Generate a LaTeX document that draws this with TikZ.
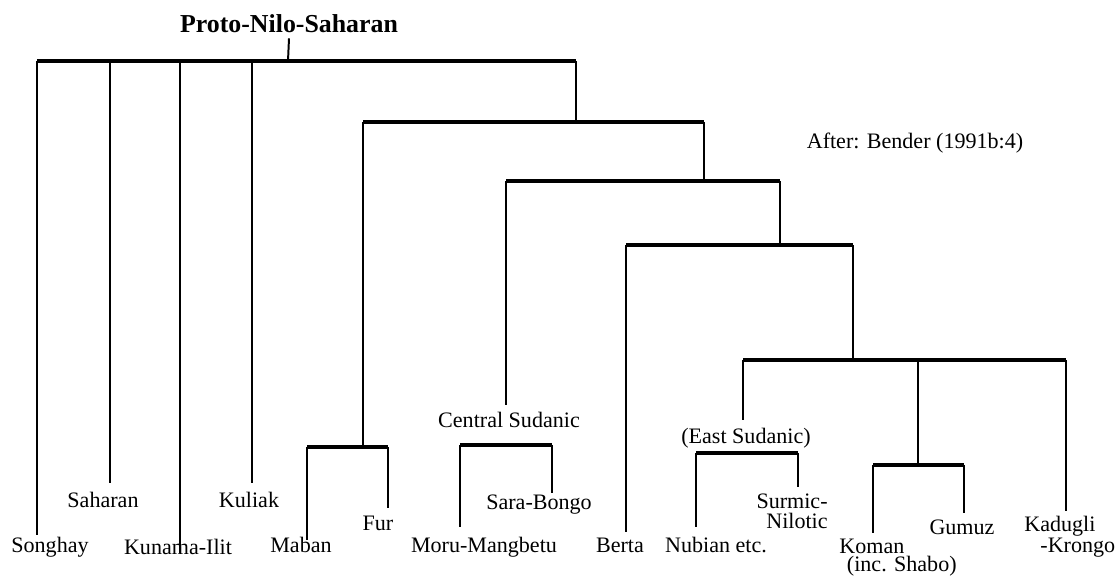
\documentclass[tikz,border=0pt]{standalone}
\usepackage{fontspec}
\setmainfont{Liberation Serif}
\tikzset{
  ns label/.style={font=\fontsize{11.7}{12}\selectfont, inner sep=0pt, anchor=base},
  ns multi/.style={font=\fontsize{11.7}{10.6}\selectfont, inner sep=0pt},
  ns title/.style={font=\fontsize{13.7}{14}\selectfont\bfseries, inner sep=0pt, anchor=base},
  ns bar/.style={line width=1.6pt},
  ns line/.style={line width=1.05pt},
}
\begin{document}
\begin{tikzpicture}[x=0.53pt, y=-0.53pt]
  \useasboundingbox (0,0) rectangle (1120,576);
  % labels
  \node[ns title] (title) at (289,32) {Proto-Nilo-Saharan};
  \node[ns label] (after) at (915,148) {After: Bender (1991b:4)};
  \node[ns label] (songhay) at (50,552) {Songhay};
  \node[ns label] (saharan) at (103,507) {Saharan};
  \node[ns label] (kunama) at (178,554) {Kunama-Ilit};
  \node[ns label] (kuliak) at (249,507) {Kuliak};
  \node[ns label] (maban) at (301,552) {Maban};
  \node[ns label] (fur) at (378,530) {Fur};
  \node[ns label] (cs) at (509,427) {Central Sudanic};
  \node[ns label] (moru) at (484,552) {Moru-Mangbetu};
  \node[ns label] (sara) at (539,509) {Sara-Bongo};
  \node[ns label] (berta) at (620,552) {Berta};
  \node[ns label] (es) at (746,443) {(East Sudanic)};
  \node[ns label] (nubian) at (716,552) {Nubian etc.};
  \node[ns multi, align=right, anchor=north east] (surmic) at (828,493) {Surmic-\\Nilotic};
  \node[ns multi, align=left, anchor=north west, font=\fontsize{11.7}{8}\selectfont] (koman) at (839,539) {Koman\\\hspace*{4pt}(inc. Shabo)};
  \node[ns label] (gumuz) at (962,534) {Gumuz};
  \node[ns multi, align=left, anchor=north west, font=\fontsize{11.7}{8}\selectfont] (kadugli) at (1024,516) {Kadugli\\\hspace*{8.5pt}-Krongo};

  % branch points
  \coordinate (b0) at (288,61);
  \coordinate (b1) at (576,122);
  \coordinate (b2) at (363,447);
  \coordinate (b3) at (704,181);
  \coordinate (b4) at (506,445);
  \coordinate (b5) at (780,245);
  \coordinate (b6) at (853,360);
  \coordinate (b7) at (743,453);
  \coordinate (b8) at (918,465);
  \coordinate (e-cs) at (506,405);
  \coordinate (e-es) at (743,420);
  % line ends above the labels
  \coordinate (e-songhay) at (37,535);
  \coordinate (e-saharan) at (110,483);
  \coordinate (e-kunama) at (180,553);
  \coordinate (e-kuliak) at (252,483);
  \coordinate (e-maban) at (307,540);
  \coordinate (e-fur) at (388,508);
  \coordinate (e-moru) at (460,527);
  \coordinate (e-sara) at (552,493);
  \coordinate (e-berta) at (626,532);
  \coordinate (e-nubian) at (696,527);
  \coordinate (e-surmic) at (798,487);
  \coordinate (e-koman) at (873,533);
  \coordinate (e-gumuz) at (964,513);
  \coordinate (e-kadugli) at (1066,511);

  % bars
  \draw[ns bar] (e-songhay |- b0) -- (b1 |- b0);
  \draw[ns bar] (b2 |- b1) -- (b3 |- b1);
  \draw[ns bar] (e-maban |- b2) -- (e-fur |- b2);
  \draw[ns bar] (e-cs |- b3) -- (b5 |- b3);
  \draw[ns bar] (e-moru |- b4) -- (e-sara |- b4);
  \draw[ns bar] (e-berta |- b5) -- (b6 |- b5);
  \draw[ns bar] (e-es |- b6) -- (e-kadugli |- b6);
  \draw[ns bar] (e-nubian |- b7) -- (e-surmic |- b7);
  \draw[ns bar] (e-koman |- b8) -- (e-gumuz |- b8);

  % stems and leaves
  \draw[ns line] ([yshift=-3pt]title.south) -- (b0);
  \foreach \c in {e-songhay,e-saharan,e-kunama,e-kuliak,b1}
    \draw[ns line] (\c |- b0) -- (\c);
  \foreach \c in {b2,b3}
    \draw[ns line] (\c |- b1) -- (\c);
  \foreach \c in {e-maban,e-fur}
    \draw[ns line] (\c |- b2) -- (\c);
  \foreach \c in {e-cs,b5}
    \draw[ns line] (\c |- b3) -- (\c);
  \foreach \c in {e-moru,e-sara}
    \draw[ns line] (\c |- b4) -- (\c);
  \foreach \c in {e-berta,b6}
    \draw[ns line] (\c |- b5) -- (\c);
  \foreach \c in {e-es,b8,e-kadugli}
    \draw[ns line] (\c |- b6) -- (\c);
  \foreach \c in {e-nubian,e-surmic}
    \draw[ns line] (\c |- b7) -- (\c);
  \foreach \c in {e-koman,e-gumuz}
    \draw[ns line] (\c |- b8) -- (\c);
\end{tikzpicture}
\end{document}
